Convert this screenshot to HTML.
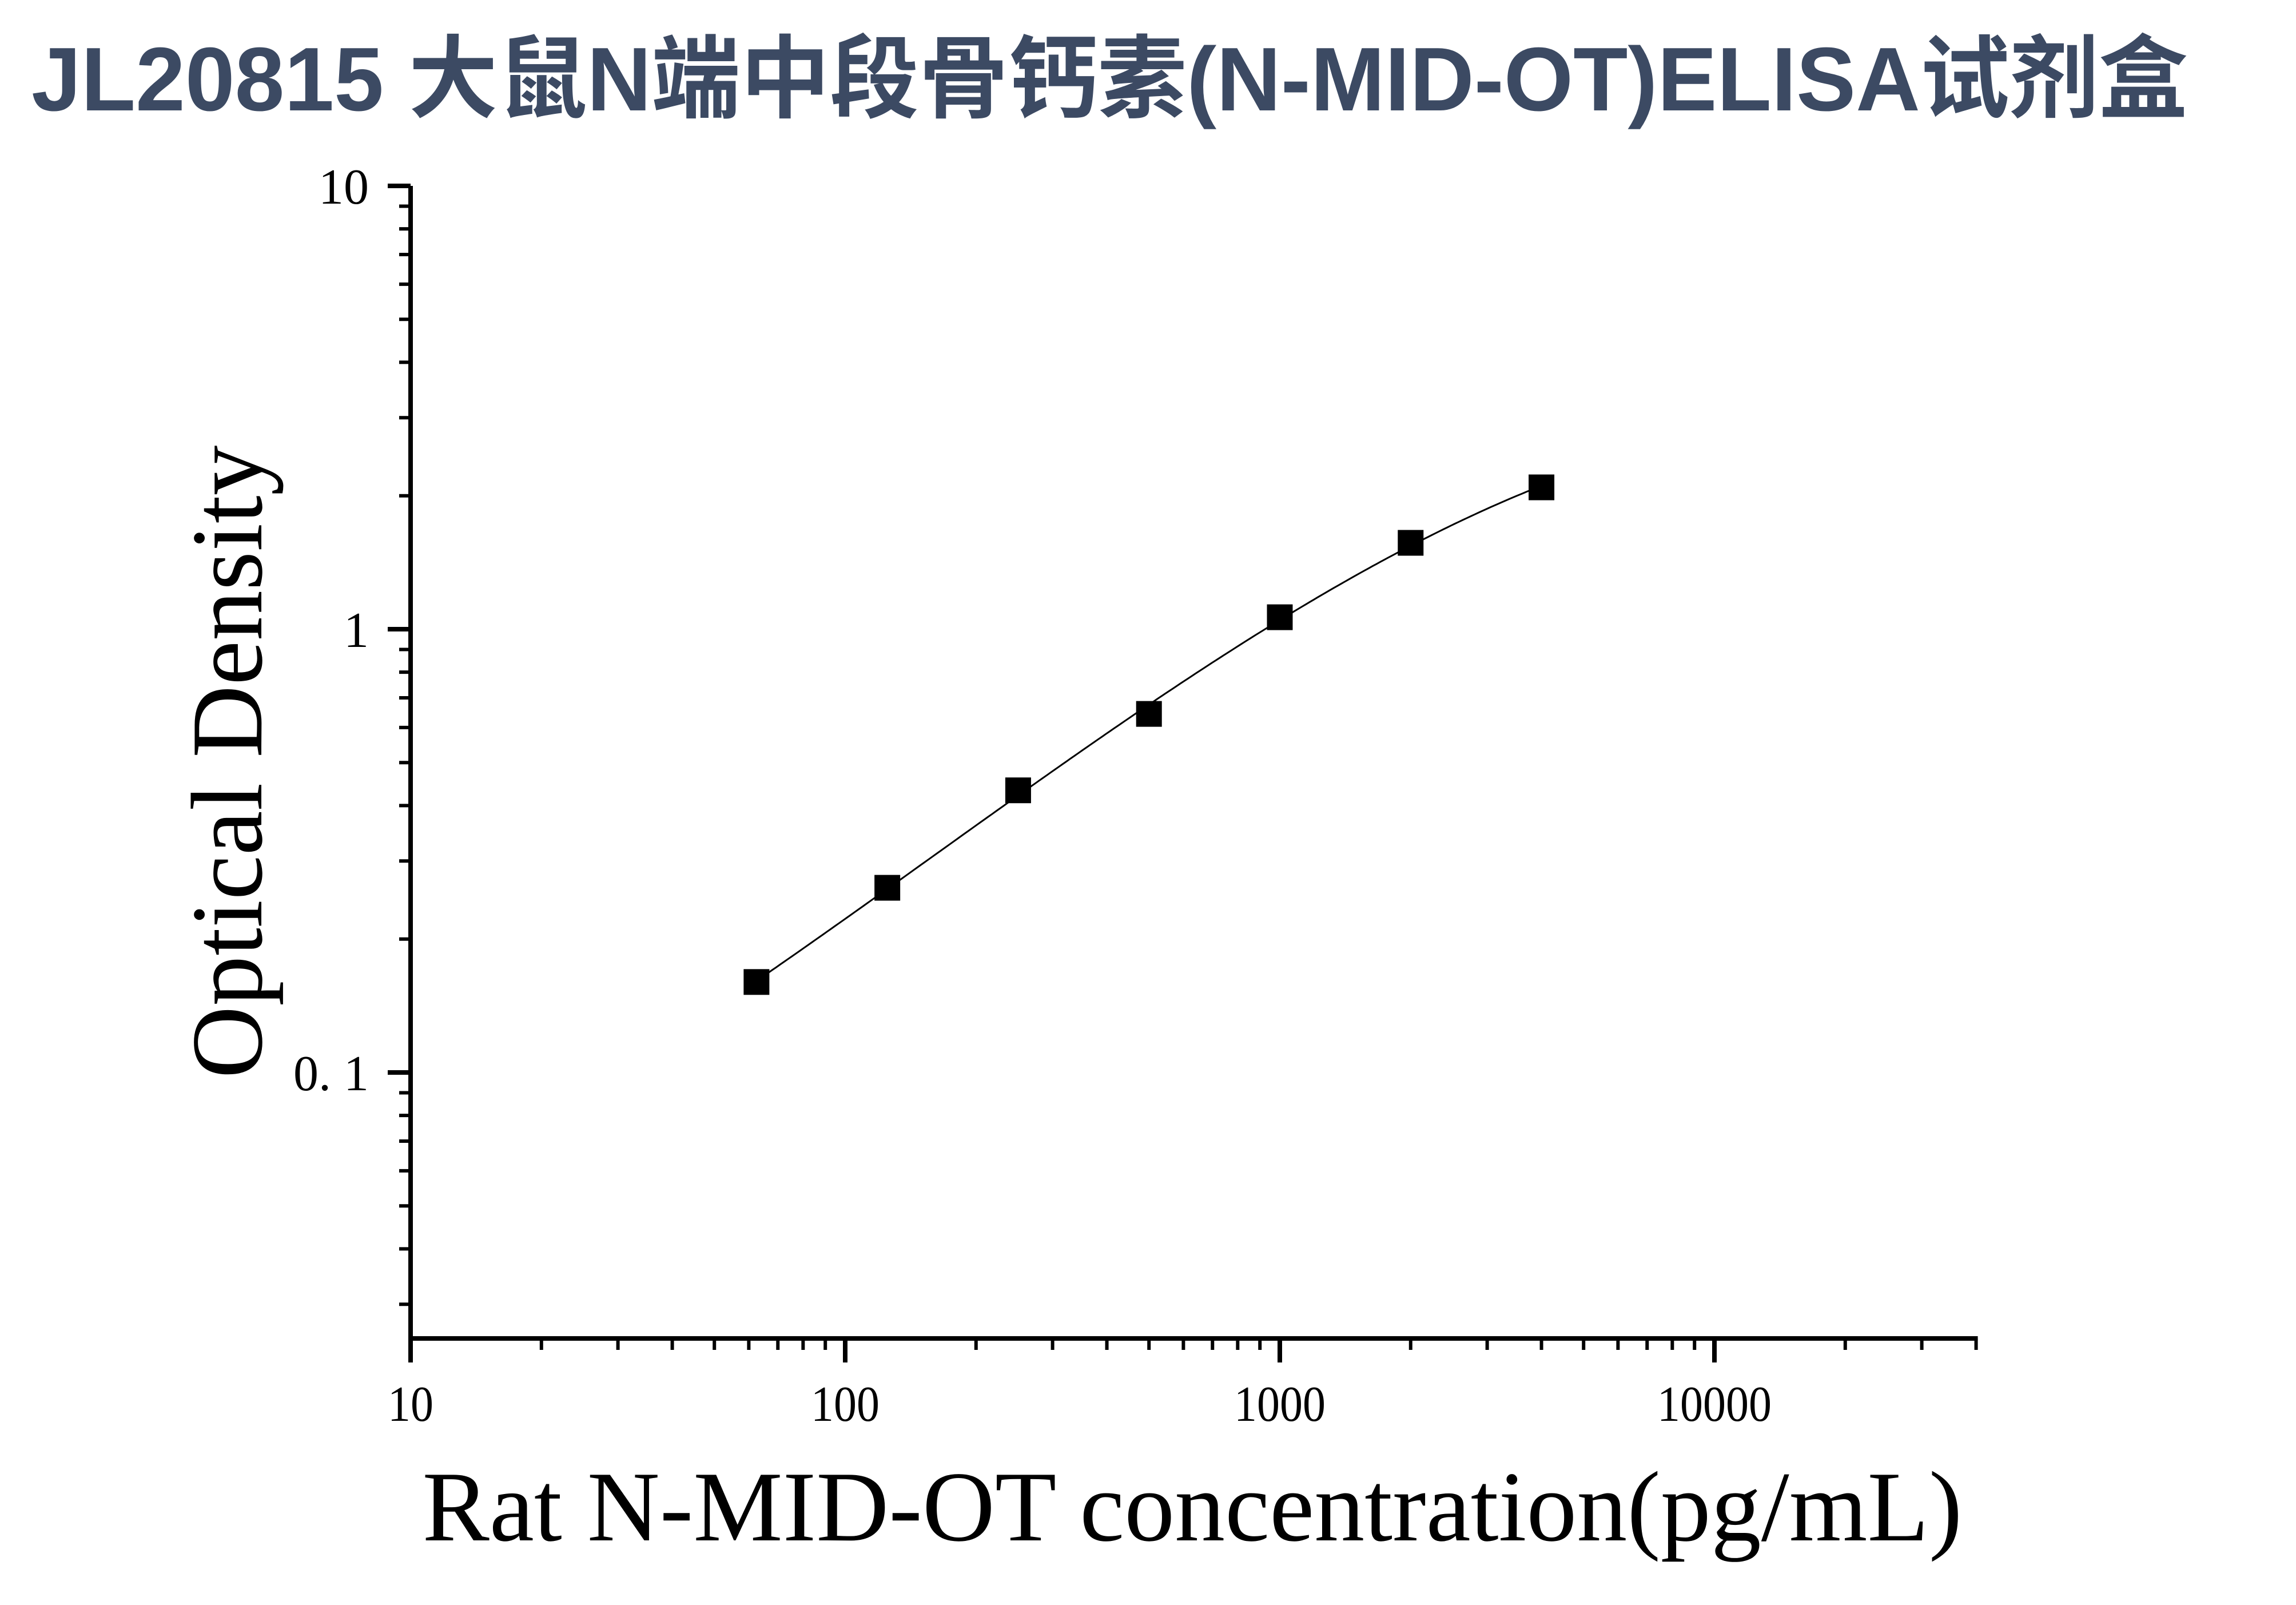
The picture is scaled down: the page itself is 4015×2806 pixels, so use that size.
<!DOCTYPE html>
<html><head><meta charset="utf-8">
<style>
html,body{margin:0;padding:0;background:#fff;}
svg{display:block;}
</style></head>
<body>
<svg id="chart" width="4015" height="2806" viewBox="0 0 4015 2806" xmlns="http://www.w3.org/2000/svg">
  <rect width="4015" height="2806" fill="#fff"/>
  <text x="55" y="193" textLength="3771" lengthAdjust="spacingAndGlyphs" font-family="'Liberation Sans','Noto Sans CJK SC',sans-serif" font-weight="bold" font-size="158" fill="#3c4a63">JL20815 大鼠N端中段骨钙素(N-MID-OT)ELISA试剂盒</text>
  <g id="axes"></g>
  <g id="curve"></g>
  <g id="points"></g>
  <text x="2085" y="2693" text-anchor="middle" textLength="2693" lengthAdjust="spacingAndGlyphs" font-family="'Liberation Serif',serif" font-size="175" fill="#000">Rat N-MID-OT concentration(pg/mL)</text>
  <text transform="translate(457,1332) rotate(-90)" text-anchor="middle" textLength="1107" lengthAdjust="spacingAndGlyphs" font-family="'Liberation Serif',serif" font-size="178" fill="#000">Optical Density</text>
</svg>
<script>
const concentrations = [62.5, 125, 250, 500, 1000, 2000, 4000];
const odValues = [0.160, 0.261, 0.433, 0.644, 1.064, 1.566, 2.089];
const xTickValues = [10, 100, 1000, 10000];
const xTickLabels = ["10", "100", "1000", "10000"];
const yTickValues = [0.1, 1, 10];
const yTickLabels = ["0. 1", "1", "10"];
const xDomain = [10, 40000];
const yDomain = [0.0251, 10];

const NS = "http://www.w3.org/2000/svg";
const X0 = 718, XDEC = 760, YTOP = 325, YDEC = 775, YBOT = 2340;
const XEND = X0 + XDEC * Math.log10(xDomain[1] / xDomain[0]);
function xs(v){ return X0 + XDEC * Math.log10(v / xDomain[0]); }
function ys(v){ return YTOP + YDEC * Math.log10(yDomain[1] / v); }
function mk(tag, attrs, parent){ const e=document.createElementNS(NS,tag); for(const k in attrs) e.setAttribute(k,attrs[k]); parent.appendChild(e); return e; }

const axes = document.getElementById('axes');
const yAxisTop = ys(yDomain[1]);
let l = mk('line',{x1:X0,y1:yAxisTop,x2:X0,y2:YBOT+4,stroke:'#000','stroke-width':8},axes);


l = mk('line',{x1:X0-4,y1:YBOT,x2:XEND+3,y2:YBOT,stroke:'#000','stroke-width':8},axes);



for (let d = -2; d <= 1; d++) {
  for (let m = 1; m <= 9; m++) {
    const v = m * Math.pow(10, d);
    if (v < yDomain[0] || v > yDomain[1] + 1e-9) continue;
    const y = ys(v);
    const major = (m === 1);
    const t = mk('line',{x1:major?678:698,y1:y,x2:X0,y2:y,stroke:'#000','stroke-width':major?8:6},axes);
    
    
  }
}
yTickValues.forEach((v,i)=>{
  const t = mk('text',{x:645,y:ys(v)+31,'text-anchor':'end','font-family':"'Liberation Serif',serif",'font-size':88,fill:'#000'},axes);
  t.textContent = yTickLabels[i];
  
  
});
for (let d = 1; d <= 4; d++) {
  for (let m = 1; m <= 9; m++) {
    const v = m * Math.pow(10, d);
    if (v > xDomain[1] + 1e-9) continue;
    const x = xs(v);
    const major = (m === 1);
    const t = mk('line',{x1:x,y1:YBOT,x2:x,y2:major?2382:2360,stroke:'#000','stroke-width':major?8:6},axes);
    
    
  }
}
xTickValues.forEach((v,i)=>{
  const t = mk('text',{x:xs(v),y:2484,'text-anchor':'middle','font-family':"'Liberation Serif',serif",'font-size':88,fill:'#000'},axes);
  t.setAttribute('textLength', xTickLabels[i].length*40);
  t.setAttribute('lengthAdjust','spacingAndGlyphs');
  t.textContent = xTickLabels[i];
  
  
});

// smooth fit: least-squares cubic of log(OD) vs log(conc)
const lx = concentrations.map(c=>Math.log10(c));
const ly = odValues.map(v=>Math.log10(v));
function polyfit(X, Y, deg){
  const n = deg+1, A = [];
  for (let r=0;r<n;r++){ A.push(new Array(n+1).fill(0)); }
  for (let k=0;k<X.length;k++){
    for (let r=0;r<n;r++){
      for (let c=0;c<n;c++) A[r][c]+=Math.pow(X[k],r+c);
      A[r][n]+=Y[k]*Math.pow(X[k],r);
    }
  }
  for (let i=0;i<n;i++){
    let p=i; for(let j=i+1;j<n;j++) if(Math.abs(A[j][i])>Math.abs(A[p][i])) p=j;
    [A[i],A[p]]=[A[p],A[i]];
    for (let j=0;j<n;j++){ if(j===i) continue; const f=A[j][i]/A[i][i]; for(let k=i;k<=n;k++) A[j][k]-=f*A[i][k]; }
  }
  return A.map((row,i)=>row[n]/row[i]);
}
const coef = polyfit(lx, ly, 3);
function fy(x){ let s=0; coef.forEach((c,i)=>s+=c*Math.pow(x,i)); return s; }
const xa = lx[0], xb = lx[lx.length-1];
let d = '';
for (let i=0;i<=200;i++){
  const x = xa + (xb-xa)*i/200;
  const px = xs(Math.pow(10,x)), py = ys(Math.pow(10,fy(x)));
  d += (i===0?'M':'L') + px.toFixed(1) + ',' + py.toFixed(1) + ' ';
}
const path = mk('path',{d:d,fill:'none',stroke:'#000','stroke-width':3},document.getElementById('curve'));



const pg = document.getElementById('points');
concentrations.forEach((c,i)=>{
  const r = mk('rect',{x:xs(c)-22.5,y:ys(odValues[i])-22.5,width:45,height:45,fill:'#000'},pg);
  
  
});
</script>
</body></html>
